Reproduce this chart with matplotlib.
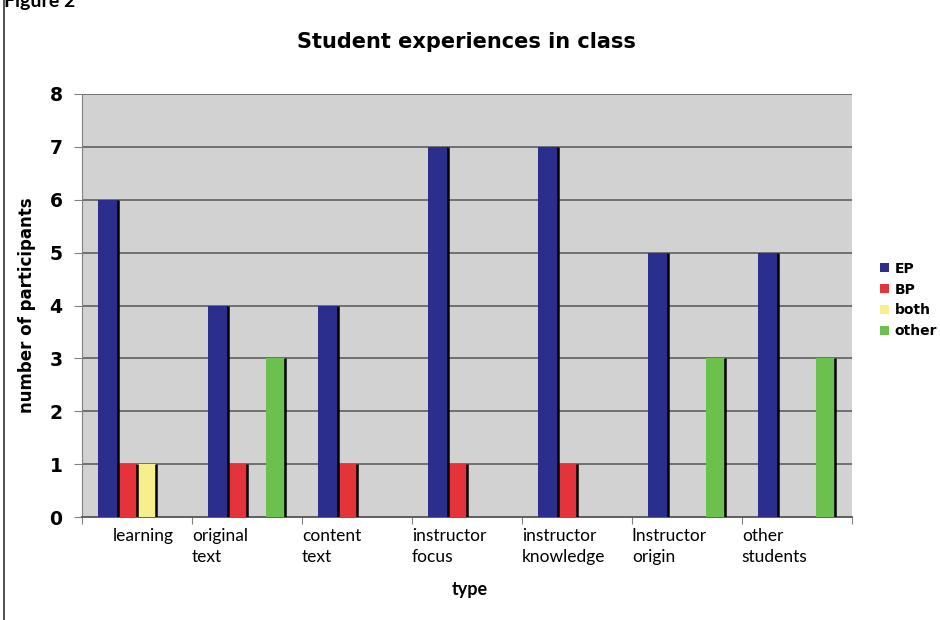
import matplotlib
matplotlib.use("Agg")
import matplotlib.pyplot as plt
import matplotlib.transforms as mtransforms
from matplotlib.lines import Line2D
import numpy as np

# chart data
categories = ["learning", "original\ntext", "content\ntext", "instructor\nfocus",
              "instructor\nknowledge", "Instructor\norigin", "other\nstudents"]
series_names = ["EP", "BP", "both", "other"]
ep = [6, 4, 4, 7, 7, 5, 5]
bp = [1, 1, 1, 1, 1, 0, 0]
both = [1, 0, 0, 0, 0, 0, 0]
other = [0, 3, 0, 0, 0, 3, 3]

colors = ["#2b2e8c", "#e5333b", "#f7ee8c", "#6cc04d"]

fig = plt.figure(figsize=(9.4, 6.2), dpi=100)
ax = fig.add_axes([0.0872, 0.1661, 0.819, 0.6823])
ax.set_facecolor("#d2d2d2")

x = np.arange(len(categories))
w = 0.175
for k, (name, vals) in enumerate(zip(series_names, [ep, bp, both, other])):
    pos = x + (k - 1.5) * w
    ax.bar(pos, vals, width=w, color=colors[k], label=name, zorder=3)
    # dark right edge like the 3D shading in the original
    vals = np.array(vals)
    nz = vals > 0
    ax.vlines(pos[nz] + w / 2, 0, vals[nz], color="black", lw=1.8, zorder=4)

ax.set_xlim(-0.5, len(categories) - 0.5)
ax.set_ylim(0, 8)
ax.set_yticks(range(9))
ax.yaxis.grid(True, color="#707070", lw=1.4, zorder=1)
ax.set_axisbelow(True)

for s in ["top", "right"]:
    ax.spines[s].set_visible(False)
ax.spines["left"].set_color("#808080")
ax.spines["bottom"].set_color("#606060")
ax.spines["bottom"].set_linewidth(1.4)

ax.tick_params(axis="y", length=6, color="#808080", pad=8)
for lab in ax.get_yticklabels():
    lab.set_fontweight("bold")
    lab.set_fontsize(13.5)
    lab.set_family("DejaVu Sans")

bounds = np.arange(len(categories) + 1) - 0.5
ax.set_xticks(bounds)
ax.set_xticklabels(categories + [""], ha="left", va="top", fontsize=12.5,
                   family="Lato", linespacing=1.35)
ax.tick_params(axis="x", length=5, color="#808080", pad=3)
first = ax.get_xticklabels()[0]
first.set_transform(first.get_transform() +
                    mtransforms.ScaledTranslation(0.31, 0, fig.dpi_scale_trans))

ax.set_ylabel("number of participants", fontsize=12, fontweight="bold",
              family="DejaVu Sans", labelpad=10)
fig.text(0.5, 1 - 590 / 620, "type", ha="center", va="center",
         fontsize=13, fontweight="bold", family="Lato")
fig.text(0.496, 1 - 42 / 620, "Student experiences in class", ha="center",
         va="center", fontsize=15, fontweight="heavy", family="DejaVu Sans")

# partially cut-off figure caption and frame line from the page
fig.text(0.004, 0.997, "Figure 2", ha="left", va="center", fontsize=14,
         fontweight="bold", family="Lato")
fig.add_artist(Line2D([0.0045, 0.0045], [0, 1], transform=fig.transFigure,
                      color="#333333", lw=1.2))

leg = ax.legend(loc="center left", bbox_to_anchor=(0.923, 1 - 300 / 620),
                bbox_transform=fig.transFigure, frameon=False,
                handlelength=0.65, handleheight=0.65, handletextpad=0.4,
                labelspacing=0.5, prop={"weight": "bold", "size": 10,
                                        "family": "DejaVu Sans"})

fig.savefig("out.png", dpi=100)
